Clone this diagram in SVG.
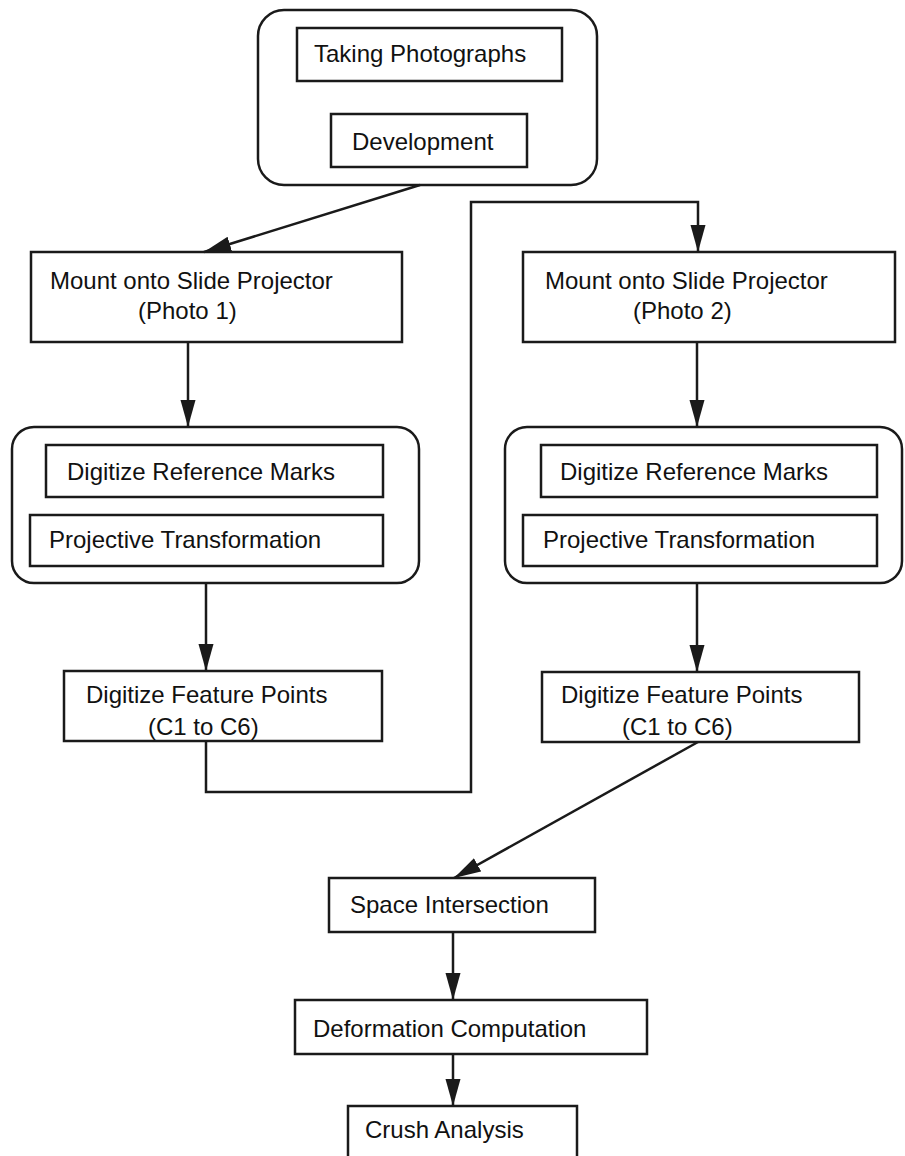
<svg xmlns="http://www.w3.org/2000/svg" width="905" height="1156" viewBox="0 0 905 1156">
<style>
.box{fill:none;stroke:#1a1a1a;stroke-width:2.5}
.grp{fill:none;stroke:#1a1a1a;stroke-width:2.5}
.t{font-family:"Liberation Sans",Arial,sans-serif;font-size:24px;fill:#111}
.c{fill:none;stroke:#1a1a1a;stroke-width:2.5}
</style>
<defs>
<marker id="ah" markerUnits="userSpaceOnUse" markerWidth="28" markerHeight="16" refX="27" refY="7.5" orient="auto">
<path d="M0,0 L27,7.5 L0,15 Z" fill="#1a1a1a"/>
</marker>
</defs>
<rect width="905" height="1156" fill="#fff"/>

<g id="photo-group">
<rect class="grp" x="258" y="10" width="339" height="175" rx="26"/>
<g id="taking-photographs">
<rect class="box" x="297" y="28" width="265" height="53"/>
<text class="t" x="314" y="62">Taking Photographs</text>
</g>
<g id="development">
<rect class="box" x="331" y="114" width="196" height="53"/>
<text class="t" x="352" y="150">Development</text>
</g>
</g>

<g id="mount-1">
<rect class="box" x="31" y="252" width="371" height="90"/>
<text class="t" x="50" y="289">Mount onto Slide Projector</text>
<text class="t" x="138" y="319">(Photo 1)</text>
</g>
<g id="mount-2">
<rect class="box" x="523" y="252" width="372" height="90"/>
<text class="t" x="545" y="289">Mount onto Slide Projector</text>
<text class="t" x="633" y="319">(Photo 2)</text>
</g>

<g id="transform-group-1">
<rect class="grp" x="12" y="427" width="407" height="156" rx="22"/>
<g id="ref-marks-1">
<rect class="box" x="46" y="445" width="337" height="52"/>
<text class="t" x="67" y="480">Digitize Reference Marks</text>
</g>
<g id="projective-1">
<rect class="box" x="30" y="515" width="353" height="51"/>
<text class="t" x="49" y="548">Projective Transformation</text>
</g>
</g>
<g id="transform-group-2">
<rect class="grp" x="505" y="427" width="397" height="156" rx="22"/>
<g id="ref-marks-2">
<rect class="box" x="541" y="445" width="336" height="52"/>
<text class="t" x="560" y="480">Digitize Reference Marks</text>
</g>
<g id="projective-2">
<rect class="box" x="523" y="515" width="354" height="51"/>
<text class="t" x="543" y="548">Projective Transformation</text>
</g>
</g>

<g id="feature-1">
<rect class="box" x="64" y="671" width="318" height="70"/>
<text class="t" x="86" y="703">Digitize Feature Points</text>
<text class="t" x="148" y="735">(C1 to C6)</text>
</g>
<g id="feature-2">
<rect class="box" x="542" y="672" width="317" height="70"/>
<text class="t" x="561" y="703">Digitize Feature Points</text>
<text class="t" x="622" y="735">(C1 to C6)</text>
</g>

<g id="space-intersection">
<rect class="box" x="329" y="878" width="266" height="54"/>
<text class="t" x="350" y="913">Space Intersection</text>
</g>
<g id="deformation">
<rect class="box" x="295" y="1000" width="352" height="54"/>
<text class="t" x="313" y="1037">Deformation Computation</text>
</g>
<g id="crush">
<rect class="box" x="348" y="1106" width="229" height="70"/>
<text class="t" x="365" y="1138">Crush Analysis</text>
</g>

<g id="connectors">
<line class="c" x1="420" y1="185" x2="204" y2="252" marker-end="url(#ah)"/>
<polyline class="c" points="206,741 206,792 471,792 471,202 698,202 698,252" marker-end="url(#ah)"/>
<line class="c" x1="188" y1="342" x2="188" y2="427" marker-end="url(#ah)"/>
<line class="c" x1="206" y1="583" x2="206" y2="671" marker-end="url(#ah)"/>
<line class="c" x1="697" y1="342" x2="697" y2="427" marker-end="url(#ah)"/>
<line class="c" x1="697" y1="583" x2="697" y2="672" marker-end="url(#ah)"/>
<line class="c" x1="698" y1="742" x2="454" y2="878" marker-end="url(#ah)"/>
<line class="c" x1="453" y1="932" x2="453" y2="1000" marker-end="url(#ah)"/>
<line class="c" x1="453" y1="1054" x2="453" y2="1106" marker-end="url(#ah)"/>
</g>
</svg>
